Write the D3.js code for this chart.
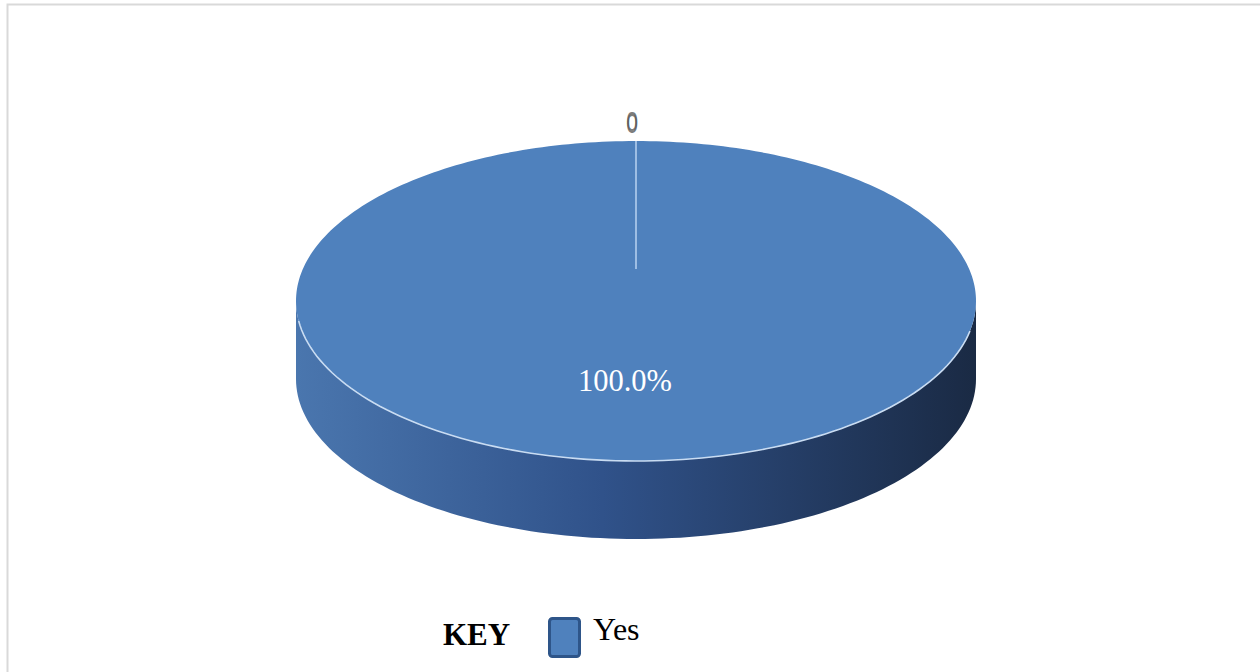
<!DOCTYPE html>
<html>
<head>
<meta charset="utf-8">
<script src="https://cdnjs.cloudflare.com/ajax/libs/d3/7.8.5/d3.min.js"></script>
<style>
  html, body { margin: 0; padding: 0; background: #fff; overflow: hidden; }
</style>
</head>
<body>
<svg id="chart" width="1260" height="672"></svg>
<script>
// chart data
var categories = ['Yes', 'No', 'Not sure'];
var values = [100, 0, 0];
var legendItems = ['Yes'];

var W = 1260, H = 672,
  cx = 636, cy = 301, rx = 340, ry = 160, depth = 78,
  topColor = '#4f81bd';

var svg = d3.select('#chart');

// outer frame
svg.append('rect')
  .attr('x', 7.5).attr('y', 4.5)
  .attr('width', W + 20).attr('height', H + 20)
  .attr('fill', 'none').attr('stroke', '#d9d9d9').attr('stroke-width', 2);

var defs = svg.append('defs');
var grad = defs.append('linearGradient').attr('id', 'sideGrad')
  .attr('x1', '0%').attr('x2', '100%').attr('y1', '0%').attr('y2', '0%');
grad.append('stop').attr('offset', '0%').attr('stop-color', '#4a76ae');
grad.append('stop').attr('offset', '45%').attr('stop-color', '#30528a');
grad.append('stop').attr('offset', '100%').attr('stop-color', '#1a2a44');

var total = d3.sum(values);
var pie = d3.pie().sort(null).value(function (d) { return d; });
var arcs = pie(values);

// map pie angle (0 at top, clockwise) onto the tilted ellipse
function pt(a, dy) {
  return [cx + rx * Math.sin(a), cy - ry * Math.cos(a) + (dy || 0)];
}

// side wall (front half of the ellipse, bottom shifted by depth)
var side = d3.path();
side.moveTo(cx - rx, cy);
var steps = 120, i, a, p;
for (i = 0; i <= steps; i++) {
  a = -Math.PI / 2 - (Math.PI * i / steps);
  p = pt(a);
  side.lineTo(p[0], p[1]);
}
for (i = steps; i >= 0; i--) {
  a = -Math.PI / 2 - (Math.PI * i / steps);
  p = pt(a, depth);
  side.lineTo(p[0], p[1]);
}
side.closePath();
svg.append('path').attr('d', side.toString()).attr('fill', 'url(#sideGrad)');

// top face, one path per slice
arcs.forEach(function (d) {
  if (d.endAngle - d.startAngle <= 0) return;
  var path = d3.path();
  path.moveTo(cx, cy);
  var n = Math.max(2, Math.ceil((d.endAngle - d.startAngle) / 0.02));
  for (var k = 0; k <= n; k++) {
    var q = pt(d.startAngle + (d.endAngle - d.startAngle) * k / n);
    path.lineTo(q[0], q[1]);
  }
  path.closePath();
  svg.append('path').attr('d', path.toString()).attr('fill', topColor);
});

// light rim along the front edge of the top face
var rim = d3.line();
var rimPts = d3.range(0, 101).map(function (k) {
  return pt(Math.PI * 0.56 + Math.PI * 0.9 * k / 100);
});
svg.append('path').attr('d', rim(rimPts))
  .attr('fill', 'none').attr('stroke', '#c9dcf2').attr('stroke-width', 1.6);

// slice boundary for the zero slices
arcs.forEach(function (d) {
  if (d.endAngle - d.startAngle > 0) return;
  var outer = pt(d.startAngle);
  var inner = [cx + (outer[0] - cx) * 0.2, cy + (outer[1] - cy) * 0.2];
  svg.append('line')
    .attr('x1', outer[0]).attr('y1', outer[1])
    .attr('x2', inner[0]).attr('y2', inner[1])
    .attr('stroke', '#a9c6ea').attr('stroke-width', 1.5).attr('opacity', 0.9);
});

// data labels
arcs.forEach(function (d, idx) {
  if (d.value === 0) {
    var o = pt(d.startAngle);
    svg.append('text')
      .attr('transform', 'translate(' + (o[0] - 4) + ',' + (o[1] - 10 + (idx - 1) * 1.5) + ') scale(0.78,1)')
      .attr('text-anchor', 'middle')
      .attr('font-family', 'Liberation Sans, Arial, sans-serif')
      .attr('font-size', 27)
      .attr('fill', '#595959')
      .attr('fill-opacity', 0.8)
      .text('0');
  } else {
    var mid = (d.startAngle + d.endAngle) / 2;
    var c = d.endAngle - d.startAngle >= 2 * Math.PI - 1e-6 ? [cx - 11, cy + 90] : pt(mid);
    svg.append('text')
      .attr('x', c[0]).attr('y', c[1])
      .attr('text-anchor', 'middle')
      .attr('font-family', 'Liberation Serif, Times New Roman, serif')
      .attr('font-size', 30.5)
      .attr('fill', '#ffffff')
      .text(d3.format('.1%')(d.value / total));
  }
});

// legend
var lg = svg.append('g');
lg.append('text').attr('x', 443).attr('y', 645)
  .attr('font-family', 'Liberation Serif, Times New Roman, serif')
  .attr('font-weight', 'bold').attr('font-size', 31).attr('fill', '#000')
  .text('KEY');
legendItems.forEach(function (name, j) {
  lg.append('rect').attr('x', 549.5).attr('y', 618.5 + j * 40)
    .attr('width', 30).attr('height', 38).attr('rx', 3)
    .attr('fill', topColor).attr('stroke', '#2e5589').attr('stroke-width', 3);
  lg.append('text').attr('x', 593).attr('y', 640 + j * 40)
    .attr('font-family', 'Liberation Serif, Times New Roman, serif')
    .attr('font-size', 32).attr('fill', '#000')
    .text(name);
});
</script>
</body>
</html>
